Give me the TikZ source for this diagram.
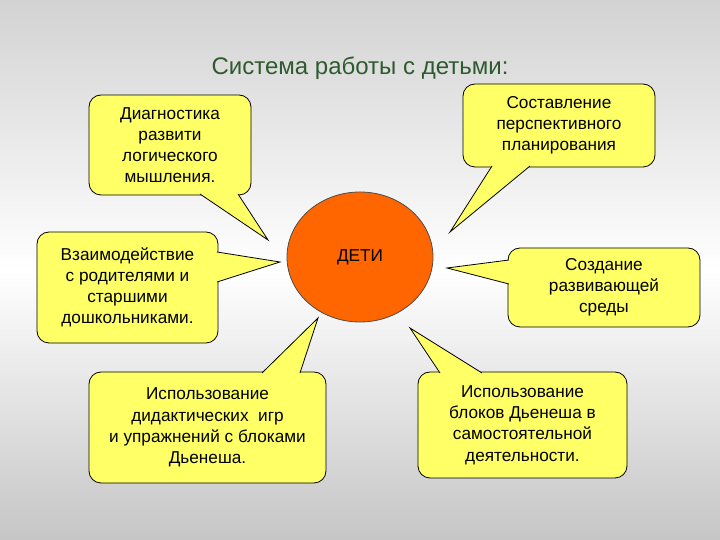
\documentclass[tikz,border=0pt]{standalone}
\usepackage{fontspec}
\setmainfont{Liberation Sans}
\usetikzlibrary{shapes.geometric}

\definecolor{calloutyellow}{HTML}{FFFF66}
\definecolor{kidorange}{HTML}{FF6600}
\definecolor{titlegreen}{HTML}{2F5A2F}

\tikzset{
  callout/.style={draw=black, fill=calloutyellow, rounded corners=6pt, align=center,
    font=\fontsize{8.6}{10.6}\selectfont, inner sep=0pt},
  tail/.style={fill=calloutyellow, draw=black, line join=miter}
}

% draws a box with its tail: box corners, base points on the edge, tip
\newcommand{\calloutbox}[7]{%
  \node[callout, minimum width={(#2-#1)*0.5pt}, minimum height={(#4-#3)*0.5pt}] (#5)
    at ({(#1+#2)/2},{(#3+#4)/2}) {#6};
  \fill[calloutyellow] #7 -- cycle;
  \draw #7;
}

\begin{document}
\begin{tikzpicture}[x=0.5pt,y=-0.5pt]
\shade[top color=gray!35, bottom color=gray!45, middle color=white] (0,0) rectangle (720,540);
\useasboundingbox (0,0) rectangle (720,540);

\node[text=titlegreen, font=\fontsize{12}{14}\selectfont] (title) at (360,68) {Система работы с детьми:};

\node[ellipse, draw=black!70, fill=kidorange, minimum width=73pt, minimum height=65pt,
  font=\fontsize{8.6}{10.6}\selectfont] (kids) at (360,257) {ДЕТИ};

\calloutbox{89}{251}{95}{195}{diag}{Диагностика\\развити\\логического\\мышления.}
  {(200,194) -- (268,240) -- (238,194)}
\calloutbox{463}{655}{84}{167}{plan}{Составление\\перспективного\\планирования}
  {(492,166) -- (450,232) -- (530,166)}
\calloutbox{37}{218}{232}{343}{parents}{Взаимодействие\\с родителями и\\старшими\\дошкольниками.}
  {(217,252) -- (280,262) -- (217,282)}
\calloutbox{508}{700}{248}{327}{env}{Создание\\развивающей\\среды}
  {(509,260) -- (447,268) -- (509,284)}
\calloutbox{89}{326}{372}{483}{games}{Использование\\дидактических~ игр\\и упражнений с блоками\\Дьенеша.}
  {(262,373) -- (318,318) -- (300,373)}
\calloutbox{418}{627}{372}{478}{blocks}{Использование\\блоков Дьенеша в\\самостоятельной\\деятельности.}
  {(440,373) -- (410,328) -- (482,373)}
\end{tikzpicture}
\end{document}
